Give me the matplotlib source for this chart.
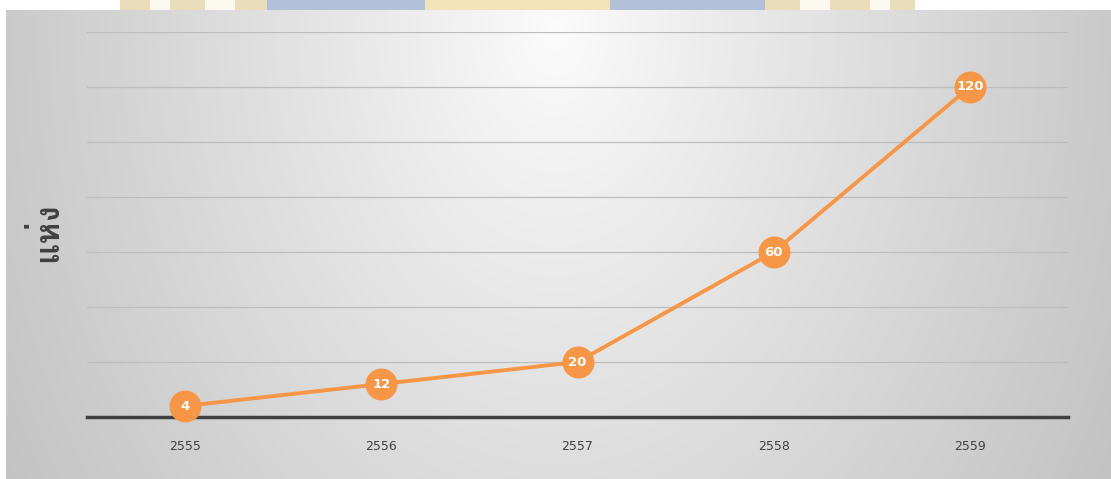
import numpy as np
import matplotlib
matplotlib.use("Agg")
import matplotlib.pyplot as plt
from matplotlib import font_manager
from matplotlib.ft2font import FT2Font
from matplotlib.patches import Rectangle

years = ["2555", "2556", "2557", "2558", "2559"]
counts = [4, 12, 20, 60, 120]
y_label = "แห่ง"
y_max = 140
y_step = 20

ORANGE = "#F79646"


def thai_font():
    for f in font_manager.fontManager.ttflist:
        try:
            cmap = FT2Font(f.fname).get_charmap()
        except Exception:
            continue
        if 0x0E41 in cmap and 0x0E2B in cmap:
            return f.name
    return "DejaVu Sans"


TH_FONT = thai_font()

W, H = 1111, 479
fig = plt.figure(figsize=(W / 100, H / 100), dpi=100)
fig.patch.set_facecolor("white")

# background panel with a soft radial gradient
bg = fig.add_axes([0, 0, 1, 1])
bg.set_xlim(0, W)
bg.set_ylim(H, 0)
bg.axis("off")
xs = np.arange(6, W)
ys = np.arange(10, H)
X, Y = np.meshgrid(xs, ys)
d = np.sqrt(((X - 555) / 580.0) ** 2 + ((Y - 30) / 800.0) ** 2)
val = np.clip(252 - 52 * d ** 0.9, 190, 255) / 255.0
img = np.dstack([val, val, val])
bg.imshow(img, extent=(6, W, H, 10), aspect="auto", interpolation="bilinear")

# decorative banner strip along the top edge
strip = [(120, 267, "#e9ddbc"), (267, 425, "#b2c0da"), (425, 610, "#f2e4b8"),
         (610, 765, "#b2c0da"), (765, 915, "#e9ddbc")]
for x0, x1, c in strip:
    bg.add_patch(Rectangle((x0, 0), x1 - x0, 10, color=c, lw=0))
for x0, w in [(150, 20), (205, 30), (800, 30), (870, 20)]:
    bg.add_patch(Rectangle((x0, 0), w, 10, color="#fbf8ef", lw=0))

ax = fig.add_axes([87 / W, (H - 417) / H, (1068 - 87) / W, (417 - 32) / H])
ax.patch.set_alpha(0)
x = np.arange(len(years))
ax.set_xlim(-0.5, len(years) - 0.5)
ax.set_ylim(0, y_max)
ax.set_yticks(np.arange(0, y_max + 1, y_step))
ax.yaxis.grid(True, color="#bdbdbd", lw=0.9)
ax.set_axisbelow(True)
ax.tick_params(axis="y", left=False, labelleft=False)
ax.tick_params(axis="x", bottom=False, labelsize=9, labelcolor="#404040", pad=13)
ax.set_xticks(x)
ax.set_xticklabels(years)
for s in ["top", "right", "left"]:
    ax.spines[s].set_visible(False)
ax.spines["bottom"].set_color("#404040")
ax.spines["bottom"].set_linewidth(2.5)

ax.plot(x, counts, color=ORANGE, lw=2.8, marker="o", ms=22,
        markerfacecolor=ORANGE, markeredgecolor=ORANGE, clip_on=False, zorder=3)
for xi, v in zip(x, counts):
    ax.text(xi, v, str(v), ha="center", va="center", color="white",
            fontsize=9.5, fontweight="bold", zorder=4)

fig.text(46 / W, 1 - 232 / H, y_label, rotation=90, ha="center", va="center",
         fontsize=24, fontweight="bold", color="#404040", family=[TH_FONT, "DejaVu Sans"])

fig.savefig("out.png", dpi=100)
